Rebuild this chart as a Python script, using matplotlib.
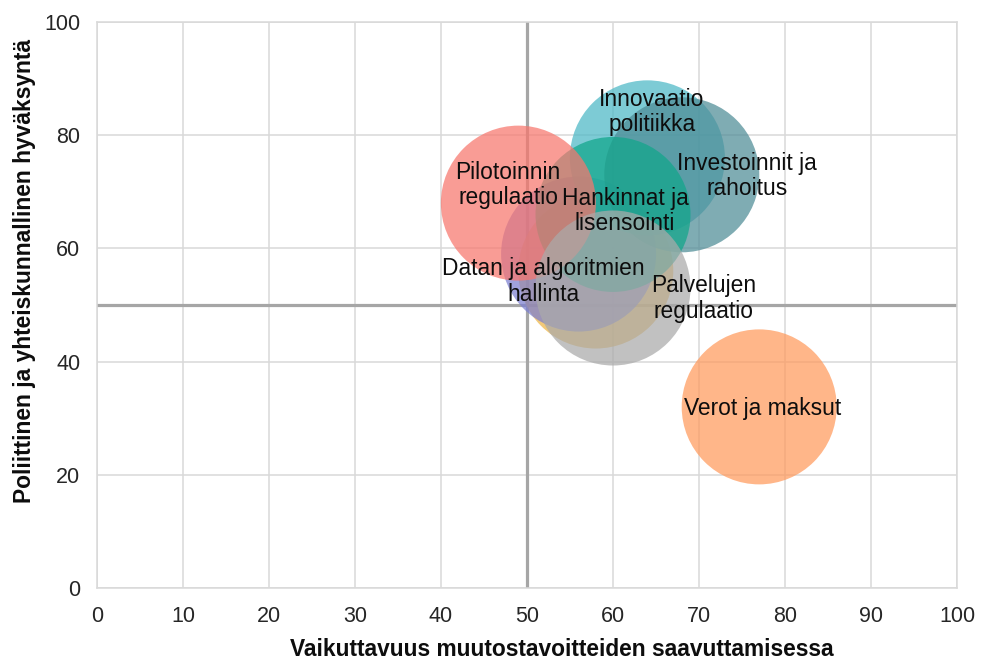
import matplotlib
matplotlib.use("Agg")
import matplotlib.pyplot as plt

plt.rcParams['font.family'] = ['Liberation Sans', 'DejaVu Sans']

# Policy instruments: effectiveness (x) vs. political acceptance (y)
names = ["", "Datan ja algoritmien\nhallinta", "Innovaatio\npolitiikka", "Investoinnit ja\nrahoitus",
         "Hankinnat ja\nlisensointi", "Pilotoinnin\nregulaatio",
         "Palvelujen\nregulaatio", "Verot ja maksut"]
effect = [58, 56, 64, 68, 60, 49, 60, 77]
accept = [56, 59, 76, 73, 66, 68, 53, 32]
bubble_size = [1, 1, 1, 1, 1, 1, 1, 1]
colors = ["#EDB544", "#7B7FD0", "#4BB8C6", "#4E8C96", "#10A68A", "#F8766D", "#AAAAAA", "#FF9A5C"]

# Label anchor points (data units)
label_x = [0, 51.9, 64.5, 75.6, 61.4, 47.8, 70.5, 77.4]
label_y = [0, 54.2, 84.1, 72.8, 66.6, 71.2, 51.2, 31.8]

x_ticks = [0, 10, 20, 30, 40, 50, 60, 70, 80, 90, 100]
y_ticks = [0, 20, 40, 60, 80, 100]

fig = plt.figure(figsize=(9.81, 6.62), dpi=100)
ax = fig.add_axes([97 / 981, 1 - 588 / 662, 860 / 981, 566 / 662])

ax.set_xlim(0, 100)
ax.set_ylim(0, 100)
ax.set_xticks(x_ticks)
ax.set_yticks(y_ticks)
ax.tick_params(length=0, labelsize=15.5, labelcolor="#262626")
ax.tick_params(axis="x", pad=13)
ax.tick_params(axis="y", pad=12)
ax.grid(True, color="#d9d9d9", linewidth=1.1, zorder=0)
ax.set_axisbelow(True)
for sp in ax.spines.values():
    sp.set_color("#d9d9d9")
    sp.set_linewidth(1.1)

# Quadrant dividers
ax.axvline(50, color="#a6a6a6", linewidth=2.3, zorder=1)
ax.axhline(50, color="#a6a6a6", linewidth=2.3, zorder=1)

# Bubble radius ~77.5 px -> marker area in points^2
radius_pt = 77.5 * 72 / fig.dpi
for i in range(len(effect)):
    s = (2 * radius_pt) ** 2 * bubble_size[i]
    ax.scatter(effect[i], accept[i], s=s, color=colors[i], alpha=0.72,
               edgecolors="none", zorder=2 + i)

for i, name in enumerate(names):
    if name:
        ax.text(label_x[i], label_y[i], name, ha="center", va="center",
                fontsize=16.4, color="#0d0d0d", linespacing=1.15, zorder=20)

fig.text(562 / 981, 1 - 650 / 662, "Vaikuttavuus muutostavoitteiden saavuttamisessa",
         ha="center", va="center", fontsize=16.4, fontweight="bold", color="#0d0d0d")
fig.text(25 / 981, 1 - 271 / 662, "Poliittinen ja yhteiskunnallinen hyväksyntä",
         ha="center", va="center", rotation=90, fontsize=16.4, fontweight="bold", color="#0d0d0d")

fig.savefig("out.png", dpi=100)
